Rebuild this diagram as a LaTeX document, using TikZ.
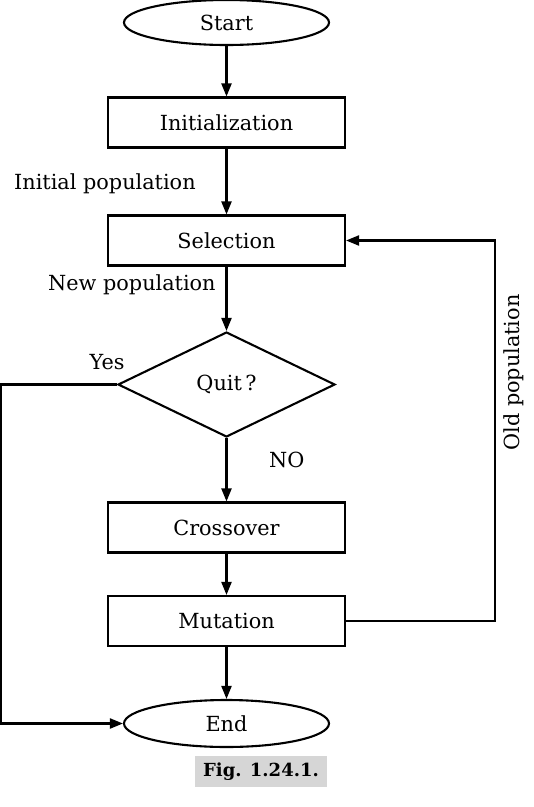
\documentclass[tikz,border=0pt]{standalone}
\usepackage{fontspec}
\setmainfont{DejaVu Serif}
\usetikzlibrary{shapes.geometric,arrows.meta}
\begin{document}
\begin{tikzpicture}[x=1pt,y=-1pt,
  every node/.style={font=\fontsize{20.8}{25}\selectfont},
  arr/.style={line width=2.1pt,-{Triangle[length=13pt,width=10pt]}},
  stepbox/.style={draw,line width=2.1pt,rectangle,minimum width=237pt,minimum height=50pt,inner sep=0pt},
  term/.style={draw,line width=2.1pt,ellipse,minimum width=205pt,minimum height=45pt,inner sep=0pt},
  decide/.style={draw,line width=2.1pt,diamond,minimum width=217pt,minimum height=105pt,inner sep=0pt},
  lbl/.style={inner sep=0pt}]
\useasboundingbox (0,0) rectangle (534,807);
\node[term] (start) at (226.5,22.5) {Start};
\node[stepbox] (init) at (226.5,122.5) {Initialization};
\node[stepbox] (sel) at (226.5,240.5) {Selection};
\node[decide] (quit) at (226.5,384.5) {Quit\,?};
\node[stepbox] (cross) at (226.5,527.5) {Crossover};
\node[stepbox] (mut) at (226.5,621) {Mutation};
\node[term,minimum height=47pt] (end) at (226.5,723.5) {End};
\node[fill=gray!32,minimum width=132pt,minimum height=31pt,inner sep=0pt,font=\fontsize{18}{22}\selectfont\bfseries] (cap) at (261,771.5) {Fig. 1.24.1.};

\coordinate (rtop) at (495,240.5);
\coordinate (rbot) at (495,621);
\coordinate (ltop) at (1.2,384.5);
\coordinate (lbot) at (1.2,723.5);

\draw[arr] (start) -- (init);
\draw[arr] (init) -- (sel);
\draw[arr] (sel) -- (quit.north);
\draw[arr] (quit.south) -- (cross);
\draw[arr] (cross) -- (mut);
\draw[arr] (mut) -- (end);
\draw[arr] (mut.east) -- (rbot) -- (rtop) -- (sel.east);
\draw[arr] (quit.west) -- (ltop) -- (lbot) -- (end.west);

\node[lbl,anchor=base west] (l1) at (14,189) {Initial population};
\node[lbl,anchor=base west] (l2) at (48,290) {New population};
\node[lbl,anchor=base west] (l3) at (89.5,369) {Yes};
\node[lbl,anchor=base west] (l4) at (269,467.5) {NO};
\node[lbl,anchor=base,rotate=90] (l5) at (519,372.5) {Old population};
\end{tikzpicture}
\end{document}
